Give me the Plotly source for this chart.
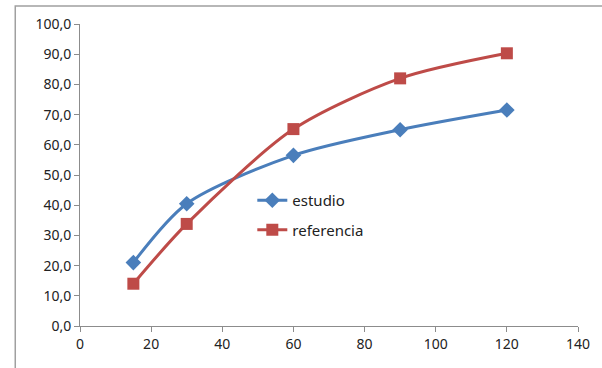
import plotly.graph_objects as go

x_vals = [15, 30, 60, 90, 120]
estudio = [21.0, 40.5, 56.5, 65.0, 71.5]
referencia = [14.0, 33.8, 65.2, 82.0, 90.3]

fig = go.Figure()
fig.add_trace(go.Scatter(x=x_vals, y=estudio, name="estudio", mode="lines+markers", legendgroup="a",
                         line=dict(color="#4A7EBB", width=3, shape="spline", smoothing=0.8),
                         marker=dict(symbol="diamond", size=12, color="#4A7EBB")))
fig.add_trace(go.Scatter(x=x_vals, y=referencia, name="referencia", mode="lines+markers", legendgroup="b",
                         line=dict(color="#BE4B48", width=3, shape="spline", smoothing=0.8),
                         marker=dict(symbol="square", size=12, color="#BE4B48")))

axis_common = dict(showgrid=False, zeroline=False, showline=True, linecolor="#8C8C8C",
                   linewidth=1, ticks="outside", ticklen=5, tickcolor="#8C8C8C",
                   tickfont=dict(family="Noto Sans", size=14, color="#222222"))
fig.update_xaxes(range=[0, 140], dtick=20, **axis_common)
fig.update_yaxes(range=[0, 100], dtick=10, tickformat=".1f", **axis_common)

fig.add_shape(type="rect", xref="paper", yref="paper", x0=-0.13, x1=1.2, y0=-0.3, y1=1.06,
              line=dict(color="#A0A0A0", width=1.5), fillcolor="rgba(0,0,0,0)", layer="below")

fig.update_layout(width=602, height=368, margin=dict(l=80, r=22, t=24, b=42),
                  paper_bgcolor="white", plot_bgcolor="white", separators=",.",
                  legend=dict(x=0.346, y=0.47, xanchor="left", yanchor="top",
                              bgcolor="rgba(0,0,0,0)", font=dict(family="Noto Sans", size=15, color="#222222"),
                              tracegroupgap=7, itemwidth=30),
                  showlegend=True)
fig.write_html("out.html", config={"displayModeBar": False},
               post_script="document.body.style.margin='0';document.body.style.overflow='hidden';")
